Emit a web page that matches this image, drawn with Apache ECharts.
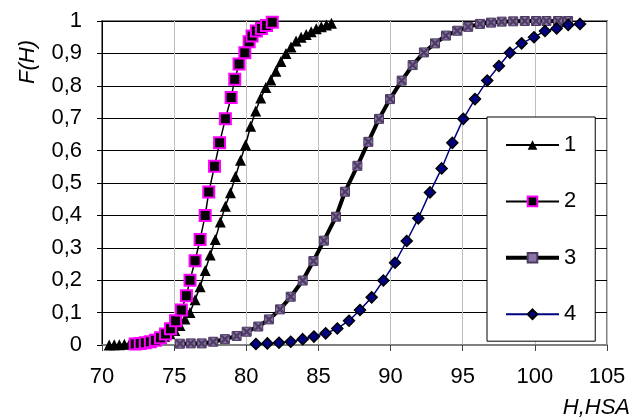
<!DOCTYPE html>
<html>
<head>
<meta charset="utf-8">
<script src="https://cdn.jsdelivr.net/npm/echarts@6/dist/echarts.min.js"></script>
<style>
html,body{margin:0;padding:0;background:#fff;}
#chart{width:631px;height:419px;}
</style>
</head>
<body>
<div id="chart"></div>
<script>
// Series 1 (triangles)
var x1 = [70.5, 70.85, 71.2, 71.55, 71.9, 72.25, 72.6, 72.95, 73.3, 73.65, 74.0, 74.35, 74.7, 75.05, 75.4, 75.75, 76.1, 76.45, 76.8, 77.15, 77.5, 77.85, 78.2, 78.55, 78.9, 79.25, 79.6, 79.95, 80.3, 80.65, 81.0, 81.35, 81.7, 82.05, 82.4, 82.75, 83.1, 83.45, 83.8, 84.15, 84.5, 84.85, 85.2, 85.55, 85.9];
var y1 = [0.000, 0.001, 0.001, 0.002, 0.003, 0.004, 0.006, 0.008, 0.011, 0.015, 0.020, 0.027, 0.035, 0.045, 0.060, 0.080, 0.100, 0.140, 0.180, 0.230, 0.278, 0.326, 0.380, 0.428, 0.470, 0.520, 0.570, 0.618, 0.675, 0.722, 0.762, 0.795, 0.818, 0.845, 0.875, 0.900, 0.920, 0.938, 0.950, 0.958, 0.967, 0.976, 0.982, 0.988, 0.993];
// Series 2 (squares)
var x2 = [72.3, 72.65, 73.0, 73.35, 73.7, 74.05, 74.4, 74.75, 75.1, 75.5, 75.85, 76.1, 76.45, 76.8, 77.15, 77.4, 77.8, 78.15, 78.55, 78.95, 79.2, 79.5, 79.9, 80.2, 80.4, 80.7, 81.05, 81.4, 81.8];
var y2 = [0.003, 0.005, 0.007, 0.010, 0.015, 0.022, 0.034, 0.050, 0.075, 0.108, 0.152, 0.200, 0.260, 0.326, 0.400, 0.472, 0.552, 0.624, 0.698, 0.764, 0.820, 0.867, 0.902, 0.936, 0.954, 0.969, 0.977, 0.986, 0.996];
// Series 3 (thick line, crossed squares)
var x3 = [75.4, 76.15, 76.91, 77.71, 78.52, 79.33, 80.03, 80.83, 81.57, 82.34, 83.08, 83.91, 84.65, 85.38, 86.22, 86.84, 87.70, 88.46, 89.20, 89.96, 90.77, 91.53, 92.31, 93.08, 93.84, 94.62, 95.38, 96.20, 96.96, 97.70, 98.5, 99.3, 100.08, 100.8, 101.6, 102.3];
var y3 = [0.004, 0.005, 0.005, 0.010, 0.018, 0.028, 0.041, 0.057, 0.079, 0.110, 0.149, 0.199, 0.259, 0.322, 0.396, 0.473, 0.553, 0.627, 0.698, 0.759, 0.816, 0.864, 0.903, 0.931, 0.955, 0.970, 0.982, 0.991, 0.995, 0.998, 0.999, 1.0, 1.0, 1.0, 1.0, 1.0];
// Series 4 (diamonds)
var x4 = [80.67, 81.46, 82.27, 83.08, 83.91, 84.69, 85.50, 86.31, 87.12, 87.88, 88.69, 89.50, 90.31, 91.12, 91.92, 92.73, 93.54, 94.28, 95.04, 95.85, 96.70, 97.51, 98.27, 99.08, 99.94, 100.70, 101.51, 102.31, 103.13];
var y4 = [0.003, 0.005, 0.007, 0.010, 0.018, 0.026, 0.036, 0.051, 0.075, 0.108, 0.147, 0.199, 0.254, 0.321, 0.391, 0.471, 0.545, 0.624, 0.698, 0.759, 0.816, 0.861, 0.902, 0.931, 0.950, 0.969, 0.977, 0.988, 0.991];

var seriesNames = ['1', '2', '3', '4'];
var xTicks = [70, 75, 80, 85, 90, 95, 100, 105];
var yTicks = ['0', '0,1', '0,2', '0,3', '0,4', '0,5', '0,6', '0,7', '0,8', '0,9', '1'];

function pairs(xs, ys) { return xs.map(function (x, i) { return [x, ys[i]]; }); }

var FONT = '"Liberation Sans", Arial, sans-serif';
var xPath = 'path://M0,0 L2,0 L5,3 L8,0 L10,0 L10,2 L7,5 L10,8 L10,10 L8,10 L5,7 L2,10 L0,10 L0,8 L3,5 L0,2 Z';

var chart = echarts.init(document.getElementById('chart'), null, { renderer: 'canvas' });
chart.setOption({
  animation: false,
  backgroundColor: '#ffffff',
  grid: {
    left: 102, top: 21, right: 24, bottom: 74,
    show: true, borderColor: '#808080', borderWidth: 2, backgroundColor: 'transparent'
  },
  xAxis: {
    type: 'value', min: 70, max: 105, interval: 5,
    axisLine: { show: true, lineStyle: { color: '#808080', width: 2 } },
    axisTick: { show: true, inside: false, length: 6, lineStyle: { color: '#404040' } },
    axisLabel: {
      margin: 21, fontSize: 22, fontFamily: FONT, color: '#000',
      formatter: function (v) { return xTicks.indexOf(v) >= 0 ? String(v) : ''; }
    },
    splitLine: { show: true, lineStyle: { color: '#c0c0c0', width: 1 } }
  },
  yAxis: {
    type: 'value', min: 0, max: 1, interval: 0.1,
    axisLine: { show: true, lineStyle: { color: '#000', width: 1 } },
    axisTick: { show: true, inside: false, length: 5, lineStyle: { color: '#000' } },
    axisLabel: {
      margin: 20, fontSize: 22, fontFamily: FONT, color: '#000',
      formatter: function (v) { return yTicks[Math.round(v * 10)]; }
    },
    splitLine: { show: true, lineStyle: { color: '#000', width: 1 } }
  },
  legend: {
    orient: 'vertical', left: 487, top: 117,
    padding: [17, 19, 16, 17],
    backgroundColor: '#fff', borderColor: '#000', borderWidth: 1, borderRadius: 0,
    itemWidth: 53, itemHeight: 12, itemGap: 34.4,
    textStyle: { fontSize: 22, fontFamily: FONT, color: '#000' },
    data: [
      { name: '1' },
      { name: '2' },
      { name: '3', lineStyle: { width: 4 } },
      { name: '4', lineStyle: { width: 2 } }
    ]
  },
  graphic: [
    {
      type: 'text', x: 28, y: 62, rotation: Math.PI / 2,
      style: { text: 'F(H)', font: 'italic 22px ' + FONT, fill: '#000', textAlign: 'center', textVerticalAlign: 'middle' }
    },
    {
      type: 'text', x: 630, y: 408,
      style: { text: 'H,HSA', font: 'italic 22px ' + FONT, fill: '#000', textAlign: 'right', textVerticalAlign: 'middle' }
    }
  ],
  series: [
    {
      name: seriesNames[0], type: 'line', data: pairs(x1, y1),
      symbol: 'triangle', symbolSize: 11,
      lineStyle: { color: '#000', width: 1.5 },
      itemStyle: { color: '#000' }
    },
    {
      name: seriesNames[1], type: 'line', data: pairs(x2, y2),
      symbol: 'rect', symbolSize: 11,
      lineStyle: { color: '#000', width: 1.5 },
      itemStyle: { color: '#000', borderColor: '#ff00ff', borderWidth: 2 }
    },
    {
      name: seriesNames[2], type: 'line', data: pairs(x3, y3),
      symbol: 'rect', symbolSize: 9,
      lineStyle: { color: '#000', width: 4 },
      itemStyle: { color: '#8a72a8', borderColor: '#4a3a5e', borderWidth: 1 }
    },
    {
      name: seriesNames[2] + 'x', type: 'scatter', data: pairs(x3, y3),
      symbol: xPath, symbolSize: 8, silent: true,
      itemStyle: { color: '#3e2f50' }, z: 3
    },
    {
      name: seriesNames[3], type: 'line', data: pairs(x4, y4),
      symbol: 'diamond', symbolSize: 11,
      lineStyle: { color: '#000080', width: 1.5 },
      itemStyle: { color: '#000080', borderColor: '#000', borderWidth: 1.5 }
    }
  ]
});
</script>
</body>
</html>
